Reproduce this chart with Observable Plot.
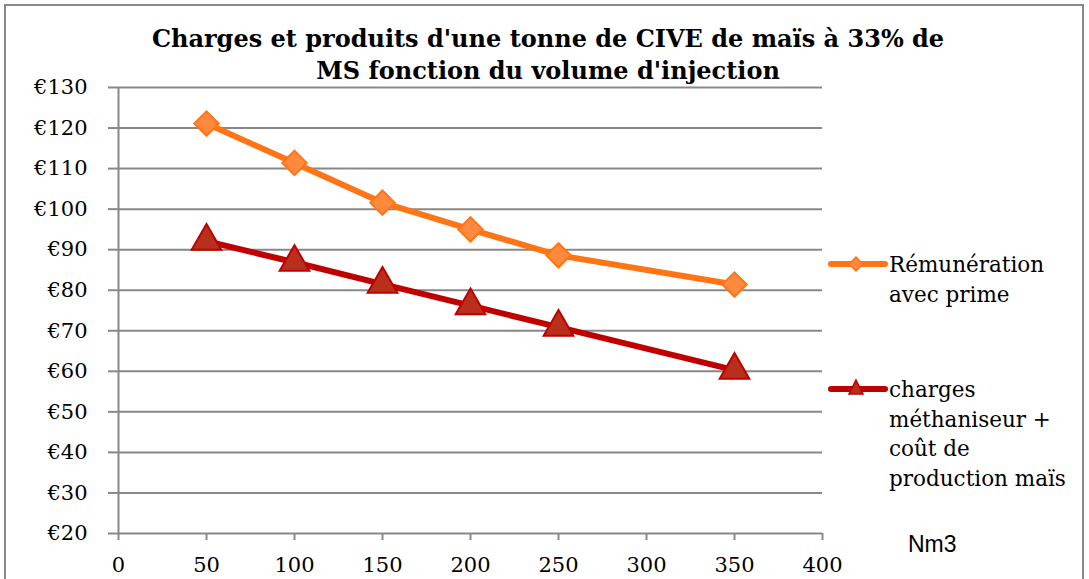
<!DOCTYPE html>
<html><head><meta charset="utf-8">
<script src="https://cdn.jsdelivr.net/npm/d3@7"></script>
<script src="https://cdn.jsdelivr.net/npm/@observablehq/plot@0.6"></script>
<style>
html,body{margin:0;padding:0;background:#fff;}
#wrap{position:relative;width:1089px;height:579px;overflow:hidden;font-family:"DejaVu Serif",serif;}
#frame{position:absolute;left:4px;top:4px;width:1080px;height:600px;border:2px solid #888;box-sizing:border-box;}
#title{position:absolute;left:48px;width:1000px;top:23px;text-align:center;font-weight:bold;font-size:24px;line-height:32px;color:#000;}
#chart{position:absolute;left:0;top:0;}
.leg{position:absolute;left:828px;font-size:21.5px;line-height:29.5px;color:#000;}
.leg svg{position:absolute;left:0;top:0;}
.leg div{margin-left:61px;}
#unit{position:absolute;left:908px;top:531px;font-family:"Liberation Sans",Arial,sans-serif;font-size:23px;}
</style></head>
<body><div id="wrap">
<div id="frame"></div>
<div id="title">Charges et produits d'une tonne de CIVE de maïs à 33% de<br>MS fonction du volume d'injection</div>
<div id="chart"></div>
<div class="leg" id="leg1" style="top:250px"></div>
<div class="leg" id="leg2" style="top:375px"></div>
<div id="unit">Nm3</div>
</div>
<script>
const volumes = [50, 100, 150, 200, 250, 350];
const remuneration = [121.1, 111.4, 101.6, 95.0, 88.6, 81.4];
const charges = [92.1, 86.9, 81.5, 76.2, 70.9, 60.3];
const seriesNames = ["Rémunération avec prime", "charges méthaniseur + coût de production maïs"];
const xTicks = [0, 50, 100, 150, 200, 250, 300, 350, 400];
const yTicks = [20, 30, 40, 50, 60, 70, 80, 90, 100, 110, 120, 130];

const orange = "#ff7415", orangeFill = "#ff8a3d";
const red = "#c00000", redFill = "#b8301c";

const rem = volumes.map((v, i) => ({x: v, y: remuneration[i]}));
const chg = volumes.map((v, i) => ({x: v, y: charges[i]}));

const plot = Plot.plot({
  width: 1089, height: 579,
  marginLeft: 118, marginRight: 267, marginTop: 87, marginBottom: 46,
  style: {fontFamily: "DejaVu Serif, serif", fontSize: "21px", color: "#000", background: "transparent", overflow: "visible"},
  x: {domain: [0, 400], ticks: xTicks, label: null},
  y: {domain: [20, 130], ticks: yTicks, label: null},
  marks: [
    Plot.ruleY(yTicks, {y: d => d, x1: 0, x2: 400, stroke: "#888", strokeWidth: 2}),
    Plot.axisY({ticks: yTicks, tickFormat: d => "€" + d, tickSize: 10, tickPadding: 21, stroke: "#888", strokeWidth: 2, fill: "#000", fontSize: 21, label: null}),
    Plot.axisX({ticks: xTicks, tickSize: 7, tickPadding: 17, stroke: "#888", strokeWidth: 2, fill: "#000", fontSize: 21, label: null}),
    Plot.ruleX([0], {stroke: "#888", strokeWidth: 2}),
    Plot.line(rem, {x: "x", y: "y", stroke: orange, strokeWidth: 6}),
    Plot.line(chg, {x: "x", y: "y", stroke: red, strokeWidth: 6}),
    Plot.dot(rem, {x: "x", y: "y", symbol: "diamond2", r: 11, fill: orangeFill, stroke: orange, strokeWidth: 2}),
    Plot.dot(chg, {x: "x", y: "y", symbol: "triangle", r: 11, fill: redFill, stroke: red, strokeWidth: 2})
  ]
});
document.getElementById("chart").appendChild(plot);

function legend(id, name, color, fill, shape) {
  const el = document.getElementById(id);
  const words = name === seriesNames[0] ? ["Rémunération", "avec prime"] : ["charges", "méthaniseur +", "coût de", "production maïs"];
  const marker = shape === "diamond"
    ? `<path d="M28 7 L35 14 L28 21 L21 14 Z" fill="${fill}" stroke="${color}" stroke-width="1.5"/>`
    : `<path d="M28 5 L35 19 L21 19 Z" fill="${fill}" stroke="${color}" stroke-width="1.5"/>`;
  el.innerHTML = `<svg width="60" height="30"><line x1="3" y1="14" x2="57" y2="14" stroke="${color}" stroke-width="6" stroke-linecap="round"/>${marker}</svg>` +
    words.map(w => `<div>${w}</div>`).join("");
}
legend("leg1", seriesNames[0], orange, orangeFill, "diamond");
legend("leg2", seriesNames[1], red, redFill, "triangle");
</script>
</body></html>
